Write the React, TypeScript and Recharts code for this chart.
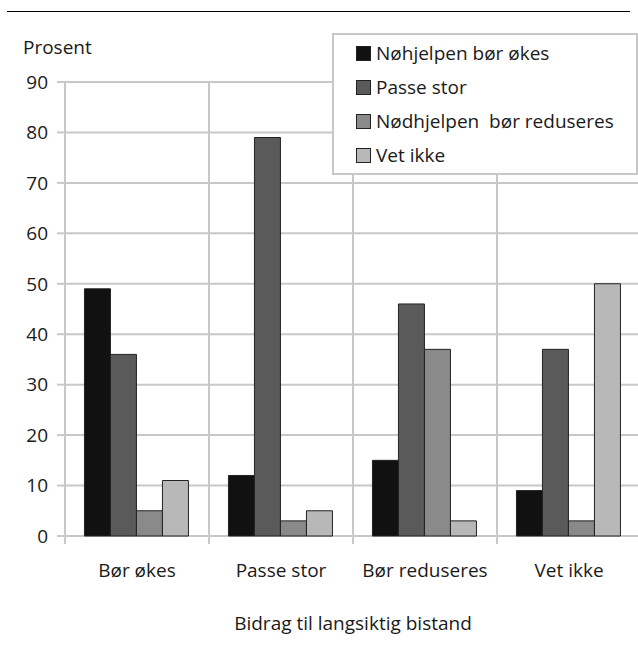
// Grouped bar chart: views on emergency aid vs. long-term aid contribution.
import { Bar, BarChart, CartesianGrid, Legend, XAxis, YAxis } from "recharts";

const categories = ["Bør økes", "Passe stor", "Bør reduseres", "Vet ikke"];
const seriesNames = ["Nøhjelpen bør økes", "Passe stor", "Nødhjelpen  bør reduseres", "Vet ikke"];
const okes = [49, 12, 15, 9];
const passe = [36, 79, 46, 37];
const redusert = [5, 3, 37, 3];
const vetIkke = [11, 5, 3, 50];
const yTicks = [0, 10, 20, 30, 40, 50, 60, 70, 80, 90];
const boundaries = [0, 1, 2, 3, 4];

const colors = ["#111111", "#5a5a5a", "#8a8a8a", "#b8b8b8"];
const keys = ["a", "b", "c", "d"];
const FONT = "'Open Sans', 'Noto Sans', sans-serif";
const GRID = "#c8c8c8";
const INK = "#1a1a1a";

const data = categories.map((name, i) => ({
  name,
  pos: i + 0.5,
  a: okes[i],
  b: passe[i],
  c: redusert[i],
  d: vetIkke[i],
}));

function CategoryTick(props: any) {
  const { x, y, payload } = props;
  const half = payload.offset ?? 0;
  return (
    <g>
      <line x1={x - half} x2={x - half} y1={y} y2={y + 8} stroke={GRID} strokeWidth={2} />
      <text x={x} y={y + 34} textAnchor="middle" dominantBaseline="central" fontSize={19} fontFamily={FONT} fill={INK}>
        {payload.value}
      </text>
    </g>
  );
}

function LegendBox() {
  return (
    <div style={{ width: 306, height: 142, boxSizing: "border-box", border: `2px solid ${GRID}`, background: "#fff", padding: "1px 0 0 22px" }}>
      {seriesNames.map((n, i) => (
        <div key={n} style={{ display: "flex", alignItems: "center", height: 34, fontFamily: FONT, fontSize: 19, color: INK, whiteSpace: "pre" }}>
          <span style={{ display: "inline-block", width: 13, height: 13, background: colors[i], border: "1px solid #222", marginRight: 5 }} />
          {n}
        </div>
      ))}
    </div>
  );
}

export default function App() {
  return (
    <div style={{ position: "absolute", left: 0, top: 0, width: 638, height: 650, overflow: "hidden", background: "#fff" }}>
      <div style={{ position: "absolute", left: 7, top: 11, width: 623, borderTop: "1px solid #000" }} />
      <div style={{ position: "absolute", left: 23, top: 34, fontFamily: FONT, fontSize: 19, lineHeight: "26px", color: INK }}>Prosent</div>
      <BarChart width={641} height={650} data={data} margin={{ top: 82, right: 0, bottom: 0, left: 0 }} barGap={0} barCategoryGap="13.5%">
        <CartesianGrid xAxisId="grid" stroke={GRID} strokeWidth={2} />
        <XAxis xAxisId="grid" dataKey="pos" type="number" domain={[0, 4]} ticks={boundaries} hide />
        <XAxis
          dataKey="name"
          height={114}
          axisLine={false}
          tickLine={false}
          tickSize={0}
          tickMargin={0}
          interval={0}
          tick={<CategoryTick />}
          label={{
            content: (p: any) => (
              <text x={p.viewBox.x + p.viewBox.width / 2} y={623} textAnchor="middle" dominantBaseline="central" fontSize={19} fontFamily={FONT} fill={INK}>
                Bidrag til langsiktig bistand
              </text>
            ),
          }}
        />
        <YAxis
          width={65}
          domain={[0, 90]}
          ticks={yTicks}
          interval={0}
          axisLine={false}
          tickLine={{ stroke: GRID, strokeWidth: 2 }}
          tickSize={8}
          tickMargin={9}
          tick={{ fontSize: 19, fontFamily: FONT, fill: INK }}
        />
        <Legend layout="horizontal" verticalAlign="middle" content={<LegendBox />} wrapperStyle={{ top: 33, left: 332, width: 306, height: 142 }} />
        {keys.map((k, i) => (
          <Bar key={k} dataKey={k} name={seriesNames[i]} fill={colors[i]} stroke="#222" strokeWidth={1} isAnimationActive={false} />
        ))}
      </BarChart>
    </div>
  );
}
